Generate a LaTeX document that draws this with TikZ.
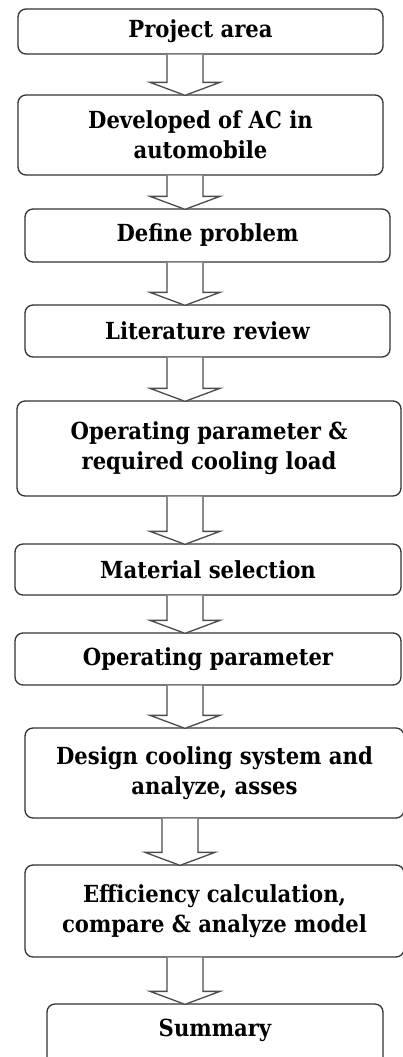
\documentclass[tikz,border=0pt]{standalone}
\usepackage{fontspec}
\setmainfont{DejaVu Serif Condensed}
\usetikzlibrary{calc}
\begin{document}
\begin{tikzpicture}[x=1pt,y=-1pt,
  stepbox/.style={draw=black!80, line width=1.3pt, rounded corners=8pt, align=center,
    inner sep=0pt, fill=white, font=\fontsize{23.5}{30}\selectfont\bfseries},
  barrow/.style={draw=black!70, line width=1.3pt, fill=white, line join=miter}]
\useasboundingbox (0,0) rectangle (403,1057);
\clip (0,0) rectangle (403,1057);
\fill[white] (0,0) rectangle (403,1057);
\node[stepbox, minimum width=365pt, minimum height=45pt] (n1) at (200.5,31.5) {Project area};
\node[stepbox, minimum width=365pt, minimum height=80pt] (n2) at (200.5,135) {Developed of AC in\\automobile};
\node[stepbox, minimum width=365pt, minimum height=53pt] (n3) at (207.5,235.5) {Define problem};
\node[stepbox, minimum width=365pt, minimum height=52pt] (n4) at (207.5,331) {Literature review};
\node[stepbox, minimum width=384pt, minimum height=95pt] (n5) at (209,448.5) {Operating parameter \&\\required cooling load};
\node[stepbox, minimum width=386pt, minimum height=51pt] (n6) at (208,569.5) {Material selection};
\node[stepbox, minimum width=386pt, minimum height=52pt] (n7) at (208,659) {Operating parameter};
\node[stepbox, minimum width=379pt, minimum height=90pt] (n8) at (214.5,773) {Design cooling system and\\analyze, asses};
\node[stepbox, minimum width=379pt, minimum height=92pt] (n9) at (214.5,911) {Efficiency calculation,\\compare \& analyze model};
\node[stepbox, minimum width=336pt, minimum height=66pt] (n10) at (215,1037) {};
\node[font=\fontsize{23.5}{30}\selectfont\bfseries, inner sep=0pt] (t10) at (215,1030) {Summary};
\coordinate (ca) at (185,0);
\coordinate (cb) at (180,0);
\newcommand\blockarr[3]{%
  \draw[barrow] let \p1=(#1.south), \p2=(#2.north), \p3=(#3) in
    (\x3-18pt,\y1) -- (\x3-18pt,\y2+12pt) -- (\x3-35pt,\y2+12pt) -- (\x3,\y2-1pt)
    -- (\x3+35pt,\y2+12pt) -- (\x3+18pt,\y2+12pt) -- (\x3+18pt,\y1);}
\blockarr{n1}{n2}{ca}
\blockarr{n2}{n3}{ca}
\blockarr{n3}{n4}{ca}
\blockarr{n4}{n5}{ca}
\blockarr{n5}{n6}{ca}
\blockarr{n6}{n7}{ca}
\blockarr{n7}{n8}{ca}
\blockarr{n8}{n9}{cb}
\blockarr{n9}{n10}{ca}
\end{tikzpicture}
\end{document}
